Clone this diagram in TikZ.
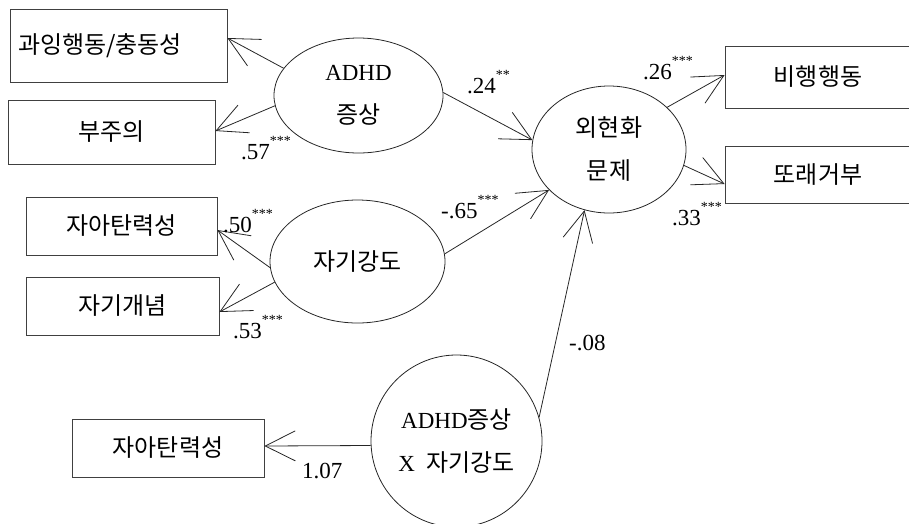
\documentclass[tikz,border=0pt]{standalone}
\usepackage{fontspec}
\setmainfont{Liberation Serif}
\newfontfamily\kr{Noto Sans CJK KR}
\usetikzlibrary{shapes.geometric,arrows.meta}
\newcommand\stars[1]{\raisebox{14pt}{\fontsize{14}{14}\selectfont #1}}
\newcommand\hk[1]{{\kr\fontsize{24}{43}\selectfont #1}}
\begin{document}
\begin{tikzpicture}[x=1pt,y=-1pt,
  box/.style={draw=black!75, line width=0.8pt, rectangle, inner sep=0pt, font=\kr\fontsize{24}{28}\selectfont},
  lat/.style={draw=black!85, line width=0.8pt, ellipse, inner sep=0pt, align=center, font=\fontsize{23}{43}\selectfont},
  conn/.style={draw=black!85, line width=0.8pt, -{Straight Barb[length=30pt,width=30pt]}},
  lbl/.style={anchor=base west, inner sep=0pt, font=\fontsize{23}{26}\selectfont}]
\useasboundingbox (0,0) rectangle (909,523);
% boxes
\node[box, minimum height=73pt, text width=201pt, align=left, inner xsep=8pt] (b1) at (118.5,45.5) {과잉행동/충동성};
\node[box, minimum width=207pt, minimum height=64pt] (b2) at (111.5,132) {부주의};
\node[box, minimum width=191pt, minimum height=58pt] (b3) at (121.5,226) {자아탄력성};
\node[box, minimum width=193pt, minimum height=58pt] (b4) at (122.5,306) {자기개념};
\node[box, minimum width=186pt, minimum height=62pt] (b5) at (818,77) {비행행동};
\node[box, minimum width=186pt, minimum height=57pt] (b6) at (818,174.5) {또래거부};
\node[box, minimum width=192pt, minimum height=58pt] (b7) at (168,448) {자아탄력성};
% latent ellipses
\node[lat, minimum width=169pt, minimum height=115pt] (e1) at (358.5,95.5) {ADHD\\\hk{증상}};
\node[lat, minimum width=154pt, minimum height=127pt] (e2) at (609,149.5) {\hk{외현화}\\\hk{문제}};
\node[lat, minimum width=175pt, minimum height=123pt] (e3) at (357.5,261.5) {\hk{자기강도}};
\node[lat, minimum width=171pt, minimum height=172pt] (e4) at (456.5,441) {ADHD\hk{증상}\\X\ \ \hk{자기강도}};
% connectors
\draw[conn] (e1.160) -- ([yshift=7.5pt]b1.east);
\draw[conn] (e1.187) -- ([yshift=1pt]b2.east);
\draw[conn] (e1.2) -- (e2.173);
\draw[conn] (e3.184) -- ([yshift=-4pt]b3.east);
\draw[conn] (e3.194) -- ([yshift=-6pt]b4.east);
\draw[conn] (e3.5.5) -- (e2.214);
\draw[conn] (e4.16) -- (e2.248);
\draw[conn] (e2.36) -- ([yshift=2pt]b5.west);
\draw[conn] (e2.348) -- ([yshift=-9.5pt]b6.west);
\draw[conn] (e4.183) -- ([yshift=2pt]b7.east);
% coefficients
\node[lbl] (l1) at (467,93) {.24\stars{**}};
\node[lbl] (l2) at (643,79) {.26\stars{***}};
\node[lbl] (l3) at (672,225) {.33\stars{***}};
\node[lbl] (l4) at (441,218) {-.65\stars{***}};
\node[lbl] (l5) at (569,350) {-.08};
\node[lbl] (l6) at (302,478) {1.07};
\node[lbl] (l7) at (241,159) {.57\stars{***}};
\node[lbl] (l8) at (223,232) {.50\stars{***}};
\node[lbl] (l9) at (233,338) {.53\stars{***}};
\end{tikzpicture}
\end{document}
